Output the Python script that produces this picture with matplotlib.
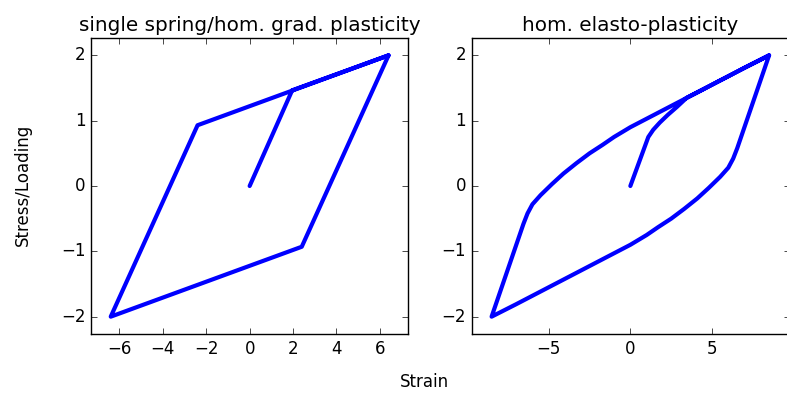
import matplotlib
matplotlib.use("Agg")
import matplotlib.pyplot as plt

plt.style.use("classic")

# Left: single spring / homogeneous gradient plasticity (piecewise linear)
left_x = [0.0, 1.96, 6.4, 2.4, -6.4, -2.4, 6.4]
left_y = [0.0, 1.465, 2.0, -0.93, -2.0, 0.93, 2.0]

# Right: homogeneous elasto-plasticity
init_x = [0.0, 1.1, 1.4, 1.8, 2.3, 2.85, 3.45, 4.0, 5.0, 6.0, 7.0, 8.5]
init_y = [0.0, 0.75, 0.86, 0.97, 1.09, 1.21, 1.35, 1.42, 1.55, 1.68, 1.81, 2.0]

down_x = [8.5, 6.55, 6.3, 6.0, 5.5, 4.8, 4.1, 3.3, 2.5, 1.7, 1.0, 0.0,
          -1.0, -2.0, -3.0, -4.0, -5.0, -6.0, -7.0, -8.5]
down_y = [2.0, 0.58, 0.42, 0.28, 0.14, -0.03, -0.19, -0.35, -0.50, -0.63, -0.75, -0.90,
          -1.03, -1.16, -1.29, -1.42, -1.55, -1.68, -1.81, -2.0]

up_x = [-8.5, -6.55, -6.3, -6.0, -5.5, -4.8, -4.1, -3.3, -2.5, -1.7, -1.0, 0.0,
        1.0, 2.0, 3.0, 4.0, 5.0, 6.0, 7.0, 8.5]
up_y = [-2.0, -0.58, -0.42, -0.28, -0.14, 0.03, 0.19, 0.35, 0.50, 0.63, 0.75, 0.90,
        1.03, 1.16, 1.29, 1.42, 1.55, 1.68, 1.81, 2.0]

right_x = init_x + down_x[1:] + up_x[1:]
right_y = init_y + down_y[1:] + up_y[1:]

W, H = 787, 393
fig = plt.figure(figsize=(W / 100, H / 100), dpi=100, facecolor="white")

def px_axes(x0, x1, y0, y1):
    return fig.add_axes([x0 / W, 1 - y1 / H, (x1 - x0) / W, (y1 - y0) / H])

ax1 = px_axes(91, 408.3, 37.7, 334.3)
ax2 = px_axes(471.7, 789.5, 37.7, 334.3)

ax1.plot(left_x, left_y, color="b", lw=3, solid_joinstyle="round", solid_capstyle="round")
ax1.set_xlim(-7.31, 7.31)
ax1.set_ylim(-2.27, 2.27)
ax1.set_xticks([-6, -4, -2, 0, 2, 4, 6])
ax1.set_yticks([-2, -1, 0, 1, 2])
ax1.set_title("single spring/hom. grad. plasticity", fontsize=14.4)

ax2.plot(right_x, right_y, color="b", lw=3, solid_joinstyle="round", solid_capstyle="round")
ax2.set_xlim(-9.72, 9.75)
ax2.set_ylim(-2.27, 2.27)
ax2.set_xticks([-5, 0, 5])
ax2.set_yticks([-2, -1, 0, 1, 2])
ax2.set_title("hom. elasto-plasticity", fontsize=14.4)

for ax in (ax1, ax2):
    ax.set_facecolor("white")
    ax.tick_params(labelsize=12)

fig.text(424 / W, 1 - 382 / H, "Strain", ha="center", va="center", fontsize=12)
fig.text(23 / W, 1 - 185 / H, "Stress/Loading", ha="center", va="center",
         rotation=90, fontsize=12)

fig.savefig("out.png", dpi=100, facecolor="white")
